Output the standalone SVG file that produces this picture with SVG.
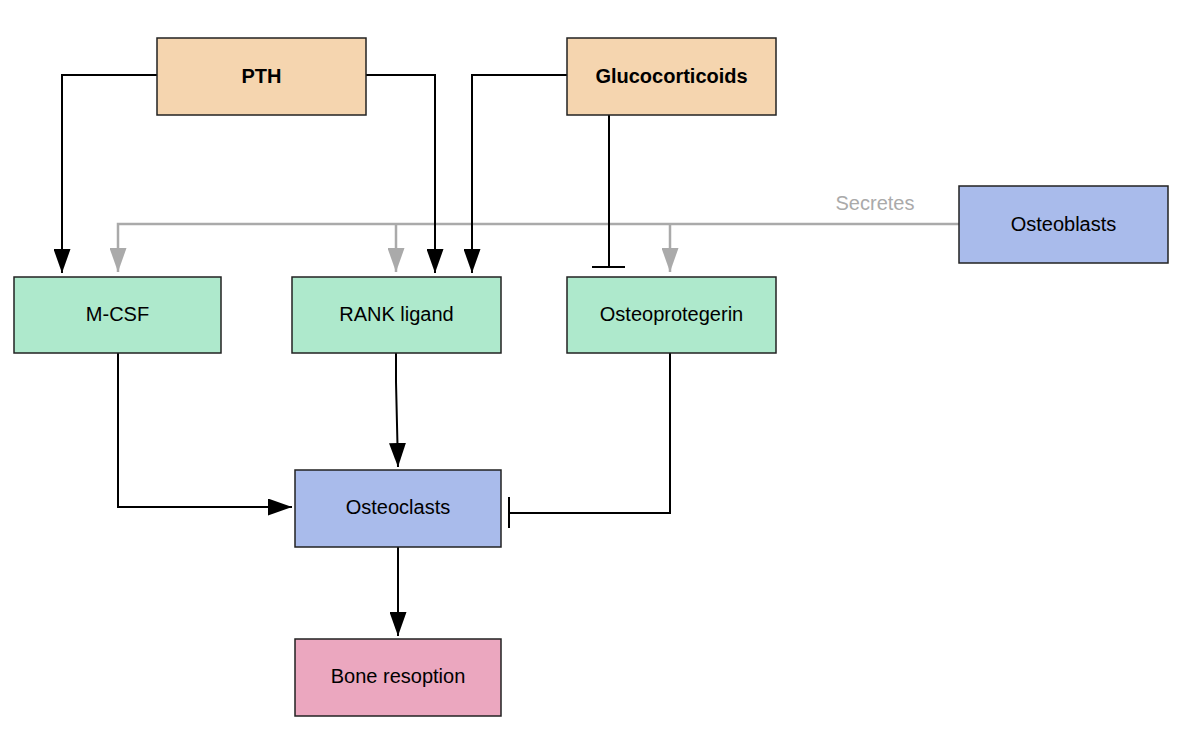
<svg xmlns="http://www.w3.org/2000/svg" width="1188" height="744" viewBox="0 0 1188 744">
<defs>
<marker id="ah" markerUnits="userSpaceOnUse" markerWidth="24" markerHeight="17" viewBox="0 0 24 17" refX="24" refY="8.5" orient="auto">
<path d="M0,0 L24,8.5 L0,17 Z" fill="#000"/>
</marker>
<marker id="ahg" markerUnits="userSpaceOnUse" markerWidth="24" markerHeight="17" viewBox="0 0 24 17" refX="24" refY="8.5" orient="auto">
<path d="M0,0 L24,8.5 L0,17 Z" fill="#aaaaaa"/>
</marker>
</defs>
<style>
.box{stroke:#222;stroke-width:1.5}
.hormone{fill:#f5d5af}
.green{fill:#aee9cc}
.blue{fill:#a9bbeb}
.pink{fill:#eba7bf}
.lbl{font-family:"Liberation Sans",Arial,sans-serif;font-size:20px;fill:#000;text-anchor:middle}
.bold{font-weight:bold}
.c{fill:none;stroke:#000;stroke-width:2}
.g{fill:none;stroke:#aaaaaa;stroke-width:2.5}
</style>
<rect width="1188" height="744" fill="#fff"/>
<g id="connectors">
<path class="g" d="M959,224 L118,224 L118,272" marker-end="url(#ahg)"/>
<path class="g" d="M396,224 L396,272" marker-end="url(#ahg)"/>
<path class="g" d="M670,224 L670,272" marker-end="url(#ahg)"/>
<text x="875" y="210" class="lbl" style="fill:#aaaaaa">Secretes</text>
<path class="c" d="M157,75 L62,75 L62,273" marker-end="url(#ah)"/>
<path class="c" d="M366,75 L435,75 L435,273" marker-end="url(#ah)"/>
<path class="c" d="M567,75 L472,75 L472,273" marker-end="url(#ah)"/>
<path class="c" d="M609,115 L609,267"/>
<path class="c" d="M592,267 L625,267"/>
<path class="c" d="M118,353 L118,507 L292,507" marker-end="url(#ah)"/>
<path class="c" d="M396,353 L396,382 L398,467" marker-end="url(#ah)"/>
<path class="c" d="M670,353 L670,513 L509,513"/>
<path class="c" d="M509,497 L509,528"/>
<path class="c" d="M398,547 L398,636" marker-end="url(#ah)"/>
</g>
<g id="pth"><rect class="box hormone" x="157" y="38" width="209" height="77"/><text class="lbl bold" x="261.5" y="83">PTH</text></g>
<g id="glucocorticoids"><rect class="box hormone" x="567" y="38" width="209" height="77"/><text class="lbl bold" x="671.5" y="83">Glucocorticoids</text></g>
<g id="osteoblasts"><rect class="box blue" x="959" y="186" width="209" height="77"/><text class="lbl" x="1063.5" y="231">Osteoblasts</text></g>
<g id="mcsf"><rect class="box green" x="14" y="277" width="207" height="76"/><text class="lbl" x="117.5" y="321">M-CSF</text></g>
<g id="rankl"><rect class="box green" x="292" y="277" width="209" height="76"/><text class="lbl" x="396.5" y="321">RANK ligand</text></g>
<g id="opg"><rect class="box green" x="567" y="277" width="209" height="76"/><text class="lbl" x="671.5" y="321">Osteoprotegerin</text></g>
<g id="osteoclasts"><rect class="box blue" x="295" y="470" width="206" height="77"/><text class="lbl" x="398" y="514">Osteoclasts</text></g>
<g id="bone"><rect class="box pink" x="295" y="639" width="206" height="77"/><text class="lbl" x="398" y="683">Bone resoption</text></g>
</svg>
